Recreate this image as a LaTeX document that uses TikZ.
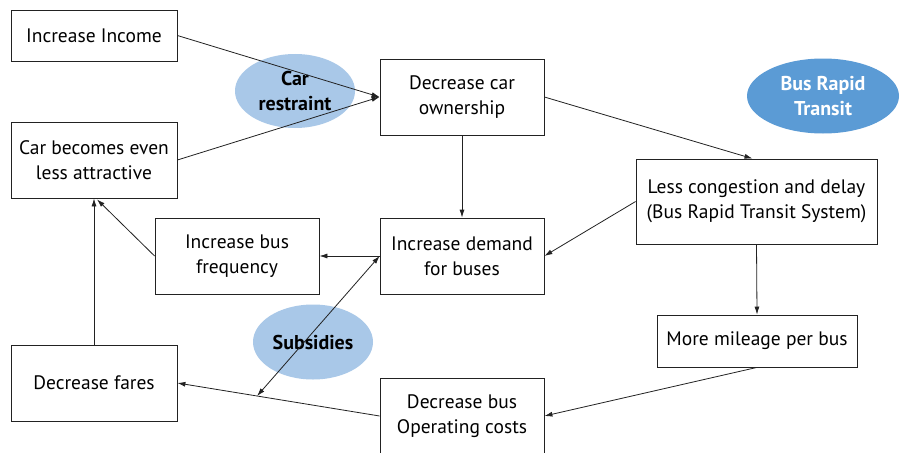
\documentclass[tikz,border=0pt]{standalone}
\usepackage{fontspec}
\setmainfont{PT Sans}
\usetikzlibrary{arrows.meta,shapes.geometric,calc}
\definecolor{paleblue}{HTML}{A9C8E8}
\definecolor{deepblue}{HTML}{5B9BD5}
\definecolor{inkline}{HTML}{222222}
\begin{document}
\begin{tikzpicture}[x=1pt,y=-1pt,
  box/.style={draw=inkline, line width=0.8pt, fill=white, rectangle, align=center,
    inner sep=0pt, font=\fontsize{19.5}{25}\selectfont},
  blob/.style={ellipse, fill=paleblue, inner sep=0pt, align=center,
    font=\bfseries\fontsize{20}{25}\selectfont},
  link/.style={draw=inkline, line width=0.8pt, -{Latex[length=8pt,width=5pt]}},
  bilink/.style={draw=inkline, line width=0.8pt, {Latex[length=8pt,width=5pt]}-{Latex[length=8pt,width=5pt]}}]
\useasboundingbox (0,0) rectangle (901,452);
\fill[white] (0,0) rectangle (901,452);

% background ellipses (connectors pass over them)
\node[blob, minimum width=120pt, minimum height=74pt] (restraint) at (295,91) {Car\\restraint};
\node[blob, minimum width=120pt, minimum height=75pt] (subsidy) at (313,342) {Subsidies};
\node[blob, fill=deepblue, text=white, minimum width=152pt, minimum height=75pt] (brt) at (823,96) {Bus Rapid\\Transit};

% boxes
\node[box, minimum width=166pt, minimum height=51pt] (inc) at (94,35.5) {Increase Income};
\node[box, minimum width=166pt, minimum height=76pt] (car) at (94,160) {Car becomes even\\less attractive};
\node[box, minimum width=164pt, minimum height=76pt] (own) at (462,97) {Decrease car\\ownership};
\node[box, minimum width=241pt, minimum height=85pt] (less) at (756.5,201.5) {Less congestion and delay\\(Bus Rapid Transit System)};
\node[box, minimum width=164pt, minimum height=76pt] (freq) at (237,256) {Increase bus\\frequency};
\node[box, minimum width=164pt, minimum height=76pt] (demand) at (462,256) {Increase demand\\for buses};
\node[box, minimum width=200pt, minimum height=52pt] (mile) at (757,341) {More mileage per bus};
\node[box, minimum width=166pt, minimum height=76pt] (fares) at (94,383) {Decrease fares};
\node[box, minimum width=164pt, minimum height=76pt] (op) at (462,416) {Decrease bus\\Operating costs};

% connectors
\draw[link] (inc.east) -- (own.west);
\draw[link] (car.east) -- (own.west);
\draw[link] (own.east) -- ($(less.north)+(-4,0)$);
\draw[link] (own.south) -- (demand.north);
\draw[link] (less.west) -- (demand.east);
\draw[link] (less.south) -- (mile.north);
\draw[link] (mile.south) -- (op.east);
\draw[link] (demand.west) -- (freq.east);
\draw[link] (freq.west) -- ($(car.south)+(3,1)$);
\draw[link] (fares.north) -- (car.south);
\draw[link] (op.west) -- (fares.east);
\coordinate (tap) at ($(op.west)!0.606!(fares.east)$);
\draw[bilink] (tap) -- (demand.west);
\end{tikzpicture}
\end{document}
